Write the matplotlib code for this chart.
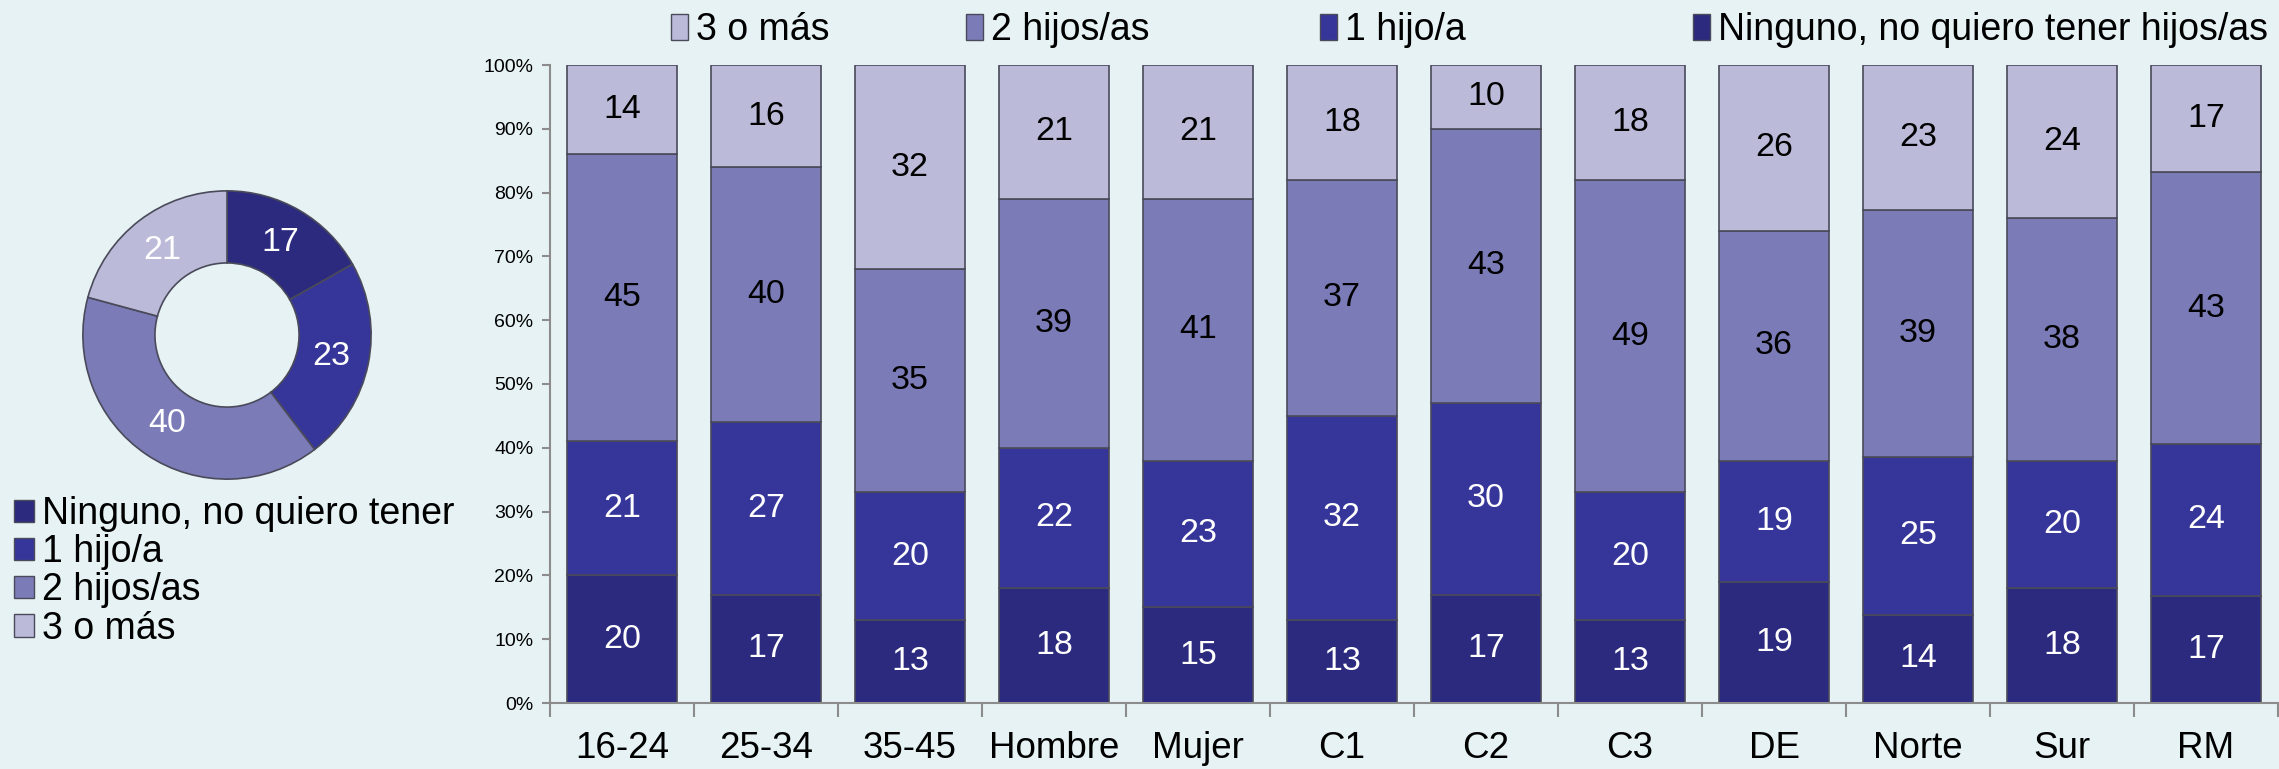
import numpy as np
import matplotlib
matplotlib.use("Agg")
import matplotlib.pyplot as plt
from matplotlib.patches import Patch

plt.rcParams['font.family'] = ['Liberation Sans', 'DejaVu Sans']

# data
categories = ['16-24', '25-34', '35-45', 'Hombre', 'Mujer', 'C1', 'C2', 'C3',
              'DE', 'Norte', 'Sur', 'RM']
ninguno = [20, 17, 13, 18, 15, 13, 17, 13, 19, 14, 18, 17]
uno = [21, 27, 20, 22, 23, 32, 30, 20, 19, 25, 20, 24]
dos = [45, 40, 35, 39, 41, 37, 43, 49, 36, 39, 38, 43]
tres = [14, 16, 32, 21, 21, 18, 10, 18, 26, 23, 24, 17]

donut_vals = [17, 23, 40, 21]
series_names = ['Ninguno, no quiero tener hijos/as', '1 hijo/a', '2 hijos/as', '3 o más']
donut_names = ['Ninguno, no quiero tener', '1 hijo/a', '2 hijos/as', '3 o más']

colors = ['#2b2a7e', '#36369a', '#7b7bb8', '#bbbbd9']
txt_colors = ['white', 'white', 'black', 'black']
bg = '#e6f2f4'
edge = '#4a4a5a'

fig = plt.figure(figsize=(22.79, 7.69), dpi=100, facecolor=bg)

# stacked 100% bars
ax = fig.add_axes([550 / 2279, 1 - 703 / 769, 1728 / 2279, 638 / 769])
ax.set_facecolor(bg)
data = np.array([ninguno, uno, dos, tres], dtype=float)
pct = data / data.sum(axis=0) * 100
x = np.arange(len(categories))
bottom = np.zeros(len(categories))
for i in range(4):
    bars = ax.bar(x, pct[i], 0.76, bottom=bottom, color=colors[i],
                  edgecolor=edge, linewidth=1.2)
    ax.bar_label(bars, labels=[str(int(v)) for v in data[i]], label_type='center',
                 color=txt_colors[i], fontsize=24.5)
    bottom += pct[i]

ax.set_xlim(-0.5, len(categories) - 0.5)
ax.set_ylim(0, 100)
ax.set_yticks(np.arange(0, 101, 10))
ax.set_yticklabels([f'{v}%' for v in range(0, 101, 10)], fontsize=14)
ax.set_xticks(x)
ax.set_xticklabels(categories, fontsize=26.5)
ax.set_xticks(np.arange(-0.5, len(categories), 1), minor=True)
ax.tick_params(axis='x', which='major', length=0, pad=20)
ax.tick_params(axis='x', which='minor', length=10, color='#8c8c8c', width=1.5)
ax.tick_params(axis='y', length=6, color='#8c8c8c', width=1.5, pad=6)
for s in ['top', 'right']:
    ax.spines[s].set_visible(False)
for s in ['left', 'bottom']:
    ax.spines[s].set_color('#8c8c8c')
    ax.spines[s].set_linewidth(1.5)

# top legend, reversed order, one entry each
handles = [Patch(facecolor=colors[i], edgecolor=edge) for i in range(4)]
top_x = [671, 966, 1320, 1693]
for k, i in enumerate([3, 2, 1, 0]):
    fig.legend([handles[i]], [series_names[i]], loc='center left',
               bbox_to_anchor=(top_x[k] / 2279, 1 - 30 / 769), frameon=False,
               fontsize=27, handlelength=0.46, handleheight=0.7,
               handletextpad=0.2, borderpad=0, borderaxespad=0)

# donut
axd = fig.add_axes([80 / 2279, 1 - 482 / 769, 294 / 2279, 294 / 769])
axd.set_facecolor(bg)
wedges, texts, autotexts = axd.pie(donut_vals, colors=colors, startangle=90,
                                   counterclock=False, radius=1,
                                   autopct='%d', pctdistance=0.74,
                                   wedgeprops=dict(width=0.5, edgecolor=edge,
                                                   linewidth=1.2))
for t, v in zip(autotexts, donut_vals):
    t.set_text(str(v))
    t.set_color('white')
    t.set_fontsize(24.5)
axd.set_xlim(-1.02, 1.02)
axd.set_ylim(-1.02, 1.02)
axd.set_aspect('equal')
axd.axis('off')

fig.legend(handles, donut_names, loc='upper left',
           bbox_to_anchor=(14 / 2279, 1 - 496 / 769), frameon=False,
           fontsize=27, handlelength=0.53, handleheight=0.53, handletextpad=0.21,
           labelspacing=0.06, borderpad=0, borderaxespad=0)

fig.savefig('out.png', dpi=100, facecolor=bg)
